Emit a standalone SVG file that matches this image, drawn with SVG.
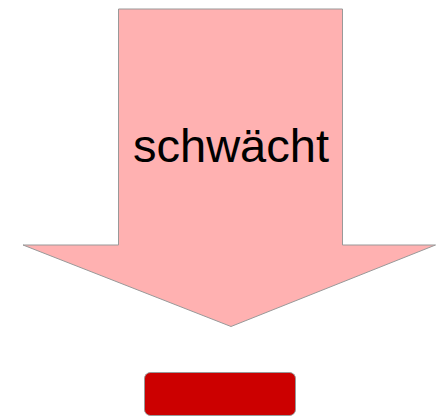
<svg xmlns="http://www.w3.org/2000/svg" width="436" height="417" viewBox="0 0 436 417">
<style>
.arrow{fill:#ffb1b1;stroke:#999999;stroke-width:1}
.lbl{font-family:"Liberation Sans",Arial,sans-serif;font-size:47px;fill:#000000;text-anchor:middle}
.box{fill:#cc0000;stroke:#999999;stroke-width:1}
</style>
<g id="arrow">
<polygon class="arrow" points="118.5,9 342.5,9 342.5,245 435.5,245 231,326.5 23,245 118.5,245"/>
<text class="lbl" x="231" y="162">schwächt</text>
</g>
<g id="connectors"></g>
<g id="box">
<rect class="box" x="144.5" y="372.5" width="151" height="43" rx="6" ry="6"/>
</g>
</svg>
